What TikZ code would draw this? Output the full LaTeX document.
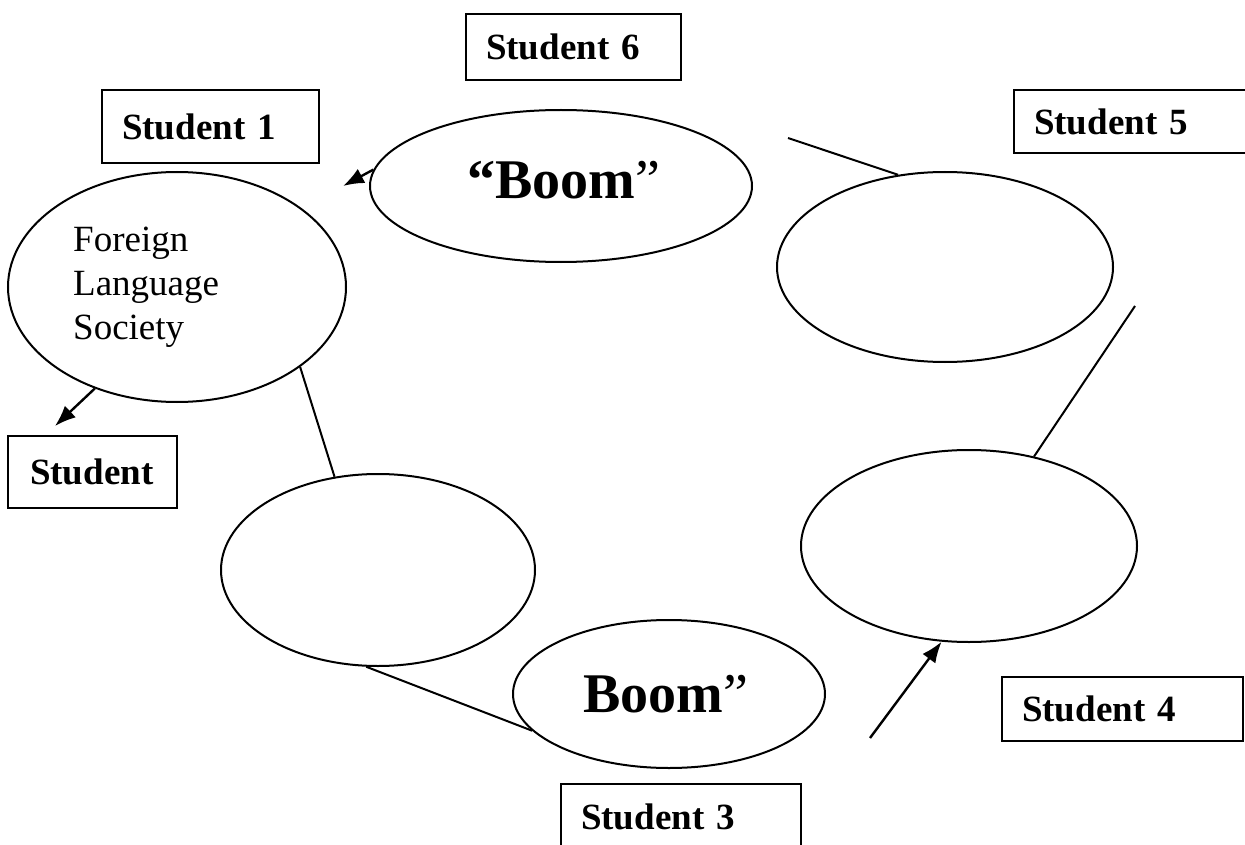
\documentclass[tikz,border=0pt]{standalone}
\usepackage{fontspec}
\setmainfont{Liberation Serif}
\usetikzlibrary{shapes.geometric,arrows.meta}
\begin{document}
\begin{tikzpicture}[x=1pt,y=-1pt,
  oval/.style={draw, ellipse, line width=2pt, inner sep=0pt},
  namebox/.style={draw, line width=1.6pt, inner xsep=20pt, inner ysep=0pt,
    align=left, font=\bfseries\fontsize{37}{44}\selectfont},
  link/.style={line width=2pt},
  pointer/.style={line width=2.4pt, -{Latex[length=21pt,width=16pt]}}]
\clip (0,0) rectangle (1245,845);
\useasboundingbox (0,0) rectangle (1245,845);

% ovals
\node[oval, minimum width=338pt, minimum height=230pt] (fls) at (177,287) {};
\node[oval, minimum width=382pt, minimum height=152pt] (boomA) at (561,186) {};
\node[oval, minimum width=336pt, minimum height=190pt] (ovTR) at (945,267) {};
\node[oval, minimum width=336pt, minimum height=192pt] (ovBR) at (969,546) {};
\node[oval, minimum width=314pt, minimum height=192pt] (ovBL) at (378,570) {};
\node[oval, minimum width=312pt, minimum height=148pt] (boomB) at (669,694) {};

% texts inside the ovals
\node[align=left, font=\fontsize{37}{44}\selectfont, inner sep=0pt, anchor=west] (flstext) at (73,287)
  {Foreign\\Language\\Society};
\node[font=\fontsize{56}{60}\selectfont, inner sep=0pt] (boomAtext) at (564,180) {\textbf{“Boom}”};
\node[font=\fontsize{56}{60}\selectfont, inner sep=0pt] (boomBtext) at (666,694) {\textbf{Boom}”};

% name boxes
\node[namebox, text width=175pt, minimum height=66pt] (s6) at (573.5,47) {Student 6};
\node[namebox, text width=177pt, minimum height=73pt] (s1) at (210.5,126.5) {Student 1};
\node[namebox, text width=202pt, minimum height=63pt] (s5) at (1135,121.5) {Student 5};
\node[namebox, inner xsep=22pt, text width=125pt, minimum height=72pt] (s0) at (92.5,472) {Student};
\node[namebox, text width=201pt, minimum height=64pt] (s4) at (1122.5,709) {Student 4};
\node[namebox, text width=200pt, minimum height=66pt] (s3) at (681,817) {Student 3};

% free ends of connectors
\coordinate (pA) at (343,186);
\coordinate (pB) at (788,138);
\coordinate (pC) at (1135,306);
\coordinate (pD) at (870,738);
\coordinate (pE) at (55,426);

% connectors
\draw[pointer] (boomA.175.6) -- (pA);
\draw[link] (pB) -- (ovTR.117);
\draw[link] (pC) -- (ovBR.54);
\draw[pointer] (pD) -- (ovBR.254);
\draw[link] (ovBL.263) -- (boomB.195.4);
\draw[link] (fls.-33.6) -- (ovBL.115);
\draw[pointer] (fls.231) -- (pE);
\end{tikzpicture}
\end{document}
